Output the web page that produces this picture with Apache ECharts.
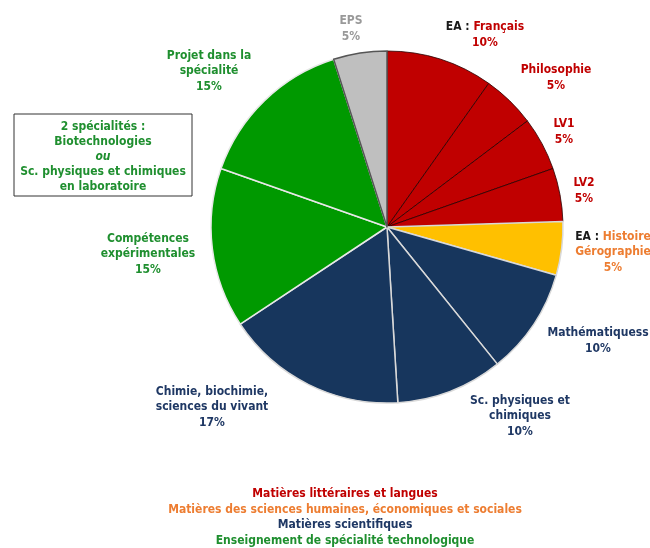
<!DOCTYPE html>
<html>
<head>
<meta charset="utf-8">
<script src="https://cdn.jsdelivr.net/npm/echarts@6/dist/echarts.min.js"></script>
<style>
  html, body { margin: 0; padding: 0; background: #fff; }
  #chart { width: 650px; height: 548px; }
</style>
</head>
<body>
<div id="chart"></div>
<script>
// subjects, clockwise from the top
const prefixes = ['EA : ', '', '', '', 'EA : ', '', '', '', '', '', ''];
const subjects = [
  'Français', 'Philosophie', 'LV1', 'LV2', 'Histoire\nGérographie',
  'Mathématiquess', 'Sc. physiques et\nchimiques', 'Chimie, biochimie,\nsciences du vivant',
  'Compétences\nexpérimentales', 'Projet dans la\nspécialité', 'EPS'
];
const shares = [10, 5, 5, 5, 5, 10, 10, 17, 15, 15, 5];
// group of each subject: 0 lettres, 1 sciences humaines, 2 sciences, 3 spécialité, 4 EPS
const groups = [0, 0, 0, 0, 1, 2, 2, 2, 3, 3, 4];

const groupNames = [
  'Matières littéraires et langues',
  'Matières des sciences humaines, économiques et sociales',
  'Matières scientifiques',
  'Enseignement de spécialité technologique'
];
const boxLines = ['2 spécialités :', 'Biotechnologies', 'ou', 'Sc. physiques et chimiques', 'en laboratoire'];

const sliceColors = ['#C00000', '#FFC000', '#17365D', '#009900', '#BFBFBF'];
const textColors = ['#C00000', '#ED7D31', '#1F3864', '#1F8F2F', '#999999'];
const borderColors = ['#2a0000', '#d9d9d9', '#d9d9d9', '#e8e8e8', '#555555'];

// label centres (px)
const labelPos = [
  [485, 35], [556, 78], [564, 132], [584, 191], [613, 252],
  [598, 341], [520, 416], [212, 407], [148, 254], [209, 71], [351, 29]
];

const FONT = '"DejaVu Sans Condensed", "DejaVu Sans", sans-serif';
const FS = 12;
const chart = echarts.init(document.getElementById('chart'));

const rich = { k: { color: '#1a1a1a', fontWeight: 'bold', fontSize: FS, fontFamily: FONT, lineHeight: 15.5 } };
textColors.forEach((c, i) => {
  rich['t' + i] = { color: c, fontWeight: 'bold', fontSize: FS, fontFamily: FONT, lineHeight: 15.5, align: 'center' };
});

const data = subjects.map((name, i) => ({
  name: name,
  value: shares[i],
  itemStyle: {
    color: sliceColors[groups[i]],
    borderColor: borderColors[groups[i]],
    borderWidth: groups[i] === 0 ? 0.8 : 1.5
  }
}));

chart.setOption({
  animation: false,
  series: [{
    type: 'pie',
    center: [387, 227],
    radius: [0, 176],
    startAngle: 90,
    clockwise: true,
    avoidLabelOverlap: false,
    labelLine: { show: false },
    label: {
      show: true,
      position: 'outside',
      formatter: (p) => {
        const i = p.dataIndex;
        const t = 't' + groups[i];
        const lines = subjects[i].split('\n').map(s => '{' + t + '|' + s + '}');
        if (prefixes[i]) lines[0] = '{k|' + prefixes[i] + '}' + lines[0];
        lines.push('{' + t + '|' + shares[i] + '%}');
        return lines.join('\n');
      },
      rich: rich,
      align: 'center'
    },
    labelLayout: (p) => ({
      x: labelPos[p.dataIndex][0],
      y: labelPos[p.dataIndex][1],
      align: 'center',
      verticalAlign: 'middle'
    }),
    data: data
  }],
  graphic: [
    {
      type: 'rect',
      shape: { x: 14, y: 114, width: 178, height: 82 },
      style: { fill: '#fff', stroke: '#333', lineWidth: 1 }
    },
    ...boxLines.map((s, i) => ({
      type: 'text',
      x: 103,
      y: 127 + i * 15,
      style: {
        text: s,
        fill: '#1F8F2F',
        font: (i === 2 ? 'italic ' : '') + 'bold ' + FS + 'px ' + FONT,
        textAlign: 'center',
        textVerticalAlign: 'middle'
      }
    })),
    ...groupNames.map((s, i) => ({
      type: 'text',
      x: 345,
      y: 494 + i * 15.5,
      style: {
        text: s,
        fill: textColors[i],
        font: 'bold ' + FS + 'px ' + FONT,
        textAlign: 'center',
        textVerticalAlign: 'middle'
      }
    }))
  ]
});
</script>
</body>
</html>
